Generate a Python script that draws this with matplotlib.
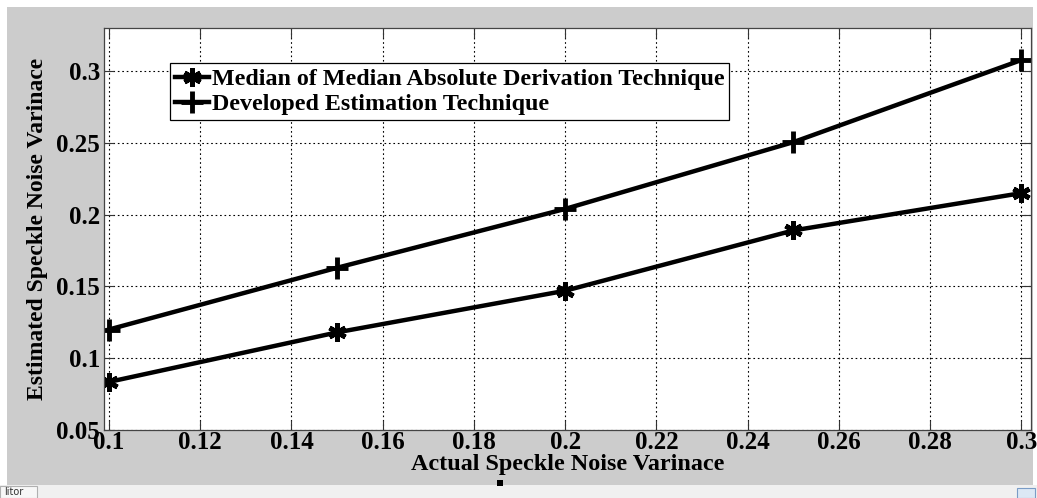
"""
Estimated vs actual speckle noise variance for the two estimation techniques.
"""

import matplotlib
matplotlib.use("Agg")
import matplotlib.pyplot as plt
from matplotlib.patches import Rectangle

actual_var = [0.1, 0.15, 0.2, 0.25, 0.3]
median_mad = [0.0835, 0.118, 0.147, 0.189, 0.215]
developed = [0.120, 0.163, 0.204, 0.2505, 0.3077]

x_ticks = [0.1, 0.12, 0.14, 0.16, 0.18, 0.2, 0.22, 0.24, 0.26, 0.28, 0.3]
x_tick_labels = ["0.1", "0.12", "0.14", "0.16", "0.18", "0.2", "0.22", "0.24", "0.26", "0.28", "0.3"]
y_ticks = [0.05, 0.1, 0.15, 0.2, 0.25, 0.3]
y_tick_labels = ["0.05", "0.1", "0.15", "0.2", "0.25", "0.3"]

plt.rcParams["font.family"] = ["Liberation Serif", "DejaVu Serif"]
plt.rcParams["font.weight"] = "bold"

W, H = 1037, 498
fig = plt.figure(figsize=(W / 100, H / 100), dpi=100, facecolor="white")

# MATLAB window chrome: gray figure area and editor strip below
chrome = [
    Rectangle((7 / W, (H - 485) / H), (1033 - 7) / W, (485 - 7) / H,
              facecolor="#cccccc", edgecolor="none"),
    Rectangle((0, 0), 1, (H - 485) / H, facecolor="#f0f0f0", edgecolor="none"),
    Rectangle((0, 0), 37 / W, (H - 486) / H, facecolor="#f7f7f7",
              edgecolor="#b0b0b0", lw=0.8),
    Rectangle((1017 / W, 0), 18 / W, (H - 488) / H, facecolor="#dce8f5",
              edgecolor="#7a9cc6", lw=0.8),
]
for p in chrome:
    p.set_transform(fig.transFigure)
    p.set_zorder(-5)
    fig.patches.append(p)

ax = fig.add_axes([104 / W, (H - 430) / H, (1031 - 104) / W, (430 - 28) / H])
ax.set_zorder(2)
ax.set_facecolor("white")

ax.plot(actual_var, median_mad, color="black", lw=3.2, marker=(6, 2, 0),
        markersize=13, markeredgewidth=3.5, label="Median of Median Absolute Derivation Technique")
ax.plot(actual_var, developed, color="black", lw=3.2, marker="+",
        markersize=16, markeredgewidth=3.5, label="Developed Estimation Technique")

ax.set_xlim(0.0989, 0.3021)
ax.set_ylim(0.05, 0.330)
ax.set_xticks(x_ticks)
ax.set_xticklabels(x_tick_labels)
ax.set_yticks(y_ticks)
ax.set_yticklabels(y_tick_labels)

ax.grid(True, color="black", linestyle=(0, (1.5, 2.5)), linewidth=0.8)
ax.tick_params(direction="in", length=7, width=0.8, top=True, right=True,
               labelsize=18, colors="#333333", labelcolor="black")
ax.tick_params(axis="x", pad=1)
ax.tick_params(axis="y", pad=3)
for lbl in ax.get_xticklabels() + ax.get_yticklabels():
    lbl.set_fontweight("bold")
for s in ax.spines.values():
    s.set_color("#444444")
    s.set_linewidth(0.9)

ax.set_xlabel("Actual Speckle Noise Varinace", fontsize=17.4, fontweight="bold", labelpad=0)
ax.set_ylabel("Estimated Speckle Noise Varinace", fontsize=17, fontweight="bold", labelpad=6)

leg = ax.legend(loc="upper left", bbox_to_anchor=(0.071, 0.912), fontsize=17.3,
                handlelength=1.45, handletextpad=0.1, borderpad=0.2, labelspacing=0.15,
                fancybox=False, framealpha=1, edgecolor="black", borderaxespad=0)
leg.get_frame().set_linewidth(0.9)
for t in leg.get_texts():
    t.set_fontweight("bold")

fig.text(4 / W, (H - 492) / H, "litor", fontsize=7, family="DejaVu Sans",
         weight="normal", color="#333333", va="center", ha="left")
fig.patches.append(Rectangle((497 / W, (H - 486) / H), 6 / W, 6 / H, transform=fig.transFigure,
                             facecolor="black", edgecolor="none", zorder=5))

fig.savefig("out.png", dpi=100, facecolor=fig.get_facecolor())
